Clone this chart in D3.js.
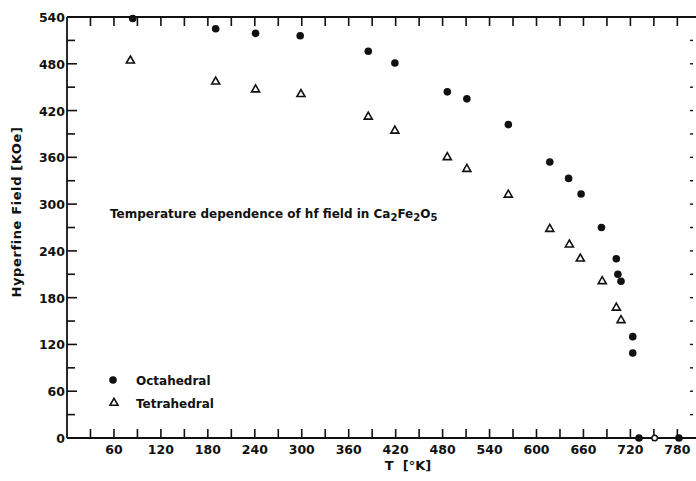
<!DOCTYPE html>
<html><head><meta charset="utf-8">
<script src="https://cdn.jsdelivr.net/npm/d3@7"></script>
<style>body{margin:0;background:#fff}svg text{font-family:"DejaVu Sans",sans-serif;fill:#111;font-weight:bold}</style>
</head><body><svg id="c" width="696" height="481"></svg>
<script>
const octT = [84,190,241,298,385,419,486,511,564,617,641,657,683,702,704,708,723,723,731,782];
const octH = [538,525,519,516,496,481,444,435,402,354,333,313,270,230,210,201,130,109,0,0];
const tetT = [81,190,241,299,385,419,486,511,564,617,642,656,684,702,708];
const tetH = [484,457,447,441,412,394,360,345,312,268,248,230,201,167,151];
const zeroOpenT = [751];
const zeroOpenH = [0];
const xTicks = [60,120,180,240,300,360,420,480,540,600,660,720,780];
const yTicks = [0,60,120,180,240,300,360,420,480,540];
const minorStep = 30;

const svg = d3.select("#c");
const x = d3.scaleLinear().domain([0,800]).range([67,693]);
const y = d3.scaleLinear().domain([0,540]).range([438,17]);
const ink = "#111";

svg.append("line").attr("x1",x(0)).attr("x2",x(0)).attr("y1",y(0)).attr("y2",y(540)).attr("stroke",ink).attr("stroke-width",1.8);
svg.append("line").attr("x1",x(0)).attr("x2",x(800)+3).attr("y1",y(0)).attr("y2",y(0)).attr("stroke",ink).attr("stroke-width",1.8);
svg.append("line").attr("x1",x(0)).attr("x2",x(800)+3).attr("y1",y(540)).attr("y2",y(540)).attr("stroke",ink).attr("stroke-width",1.8);

const xMinor = d3.range(30,800,minorStep);
const yMinor = d3.range(30,540,minorStep);
xMinor.forEach(v=>{
  svg.append("line").attr("x1",x(v)).attr("x2",x(v)).attr("y1",y(0)).attr("y2",y(0)-9).attr("stroke",ink).attr("stroke-width",1.6);
  svg.append("line").attr("x1",x(v)).attr("x2",x(v)).attr("y1",y(540)).attr("y2",y(540)+9).attr("stroke",ink).attr("stroke-width",1.6);
});
yMinor.forEach(v=>{
  svg.append("line").attr("x1",x(0)).attr("x2",x(0)+(v%60===0?10:8)).attr("y1",y(v)).attr("y2",y(v)).attr("stroke",ink).attr("stroke-width",1.6);
  svg.append("line").attr("x1",x(800)).attr("x2",x(800)-3).attr("y1",y(v)).attr("y2",y(v)).attr("stroke",ink).attr("stroke-width",1.4);
});

svg.selectAll(".xl").data(xTicks).enter().append("text")
  .attr("x",d=>x(d)).attr("y",454).attr("text-anchor","middle").attr("font-size",12.5).text(d=>d);
svg.selectAll(".yl").data(yTicks).enter().append("text")
  .attr("x",x(0)-2).attr("y",d=>y(d)+5).attr("text-anchor","end").attr("font-size",12.5).text(d=>d);

svg.append("text").attr("transform","translate(21,212) rotate(-90)").attr("text-anchor","middle")
  .attr("font-size",13).attr("letter-spacing",0.6).text("Hyperfine Field [KOe]");
svg.append("text").attr("x",408).attr("y",470).attr("text-anchor","middle").attr("font-size",13).attr("xml:space","preserve").text("T  [°K]");

const ann = svg.append("text").attr("x",110).attr("y",218).attr("font-size",12);
ann.append("tspan").text("Temperature dependence of hf field in Ca");
ann.append("tspan").attr("dy",3).attr("font-size",10).text("2");
ann.append("tspan").attr("dy",-3).text("Fe");
ann.append("tspan").attr("dy",3).attr("font-size",10).text("2");
ann.append("tspan").attr("dy",-3).text("O");
ann.append("tspan").attr("dy",3).attr("font-size",10).text("5");

const tri = d3.symbol().type(d3.symbolTriangle).size(28);
const oct = octT.map((t,i)=>({t,h:octH[i]}));
const tet = tetT.map((t,i)=>({t,h:tetH[i]}));
svg.selectAll(".o").data(oct).enter().append("circle")
  .attr("cx",d=>x(d.t)).attr("cy",d=>y(d.h)).attr("r",3.8).attr("fill",ink);
svg.selectAll(".t").data(tet).enter().append("path")
  .attr("d",tri).attr("transform",d=>`translate(${x(d.t)},${y(d.h)})`)
  .attr("fill","none").attr("stroke",ink).attr("stroke-width",1.6);
svg.selectAll(".z").data(zeroOpenT).enter().append("circle")
  .attr("cx",d=>x(d)).attr("cy",(d,i)=>y(zeroOpenH[i])).attr("r",2.8).attr("fill","#fff").attr("stroke",ink).attr("stroke-width",1.4);

svg.append("circle").attr("cx",113).attr("cy",380).attr("r",3.8).attr("fill",ink);
svg.append("text").attr("x",136).attr("y",385).attr("font-size",12).text("Octahedral");
svg.append("path").attr("d",tri).attr("transform","translate(114,403)").attr("fill","none").attr("stroke",ink).attr("stroke-width",1.6);
svg.append("text").attr("x",136).attr("y",408).attr("font-size",12).text("Tetrahedral");
</script></body></html>
